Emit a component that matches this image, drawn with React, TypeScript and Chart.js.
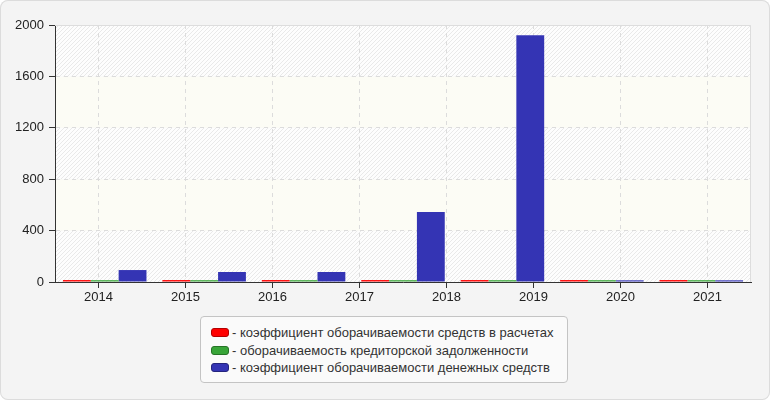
import Chart from "chart.js/auto"
import type { Plugin } from "chart.js/auto"
import { FC, useEffect, useRef } from "react"

const years = ["2014", "2015", "2016", "2017", "2018", "2019", "2020", "2021"]
// the bar groups in the picture sit on their own 7-slot grid
const barSlots = years.slice(0, 7)

const settlementsTurnover = [15, 15, 15, 15, 15, 15, 15]
const payablesTurnover = [14, 14, 14, 14, 14, 14, 14]
const cashTurnover = [93, 78, 78, 545, 1920, 13, 13]

const yTicks = [0, 400, 800, 1200, 1600, 2000]

const seriesNames = [
    "- коэффициент оборачиваемости средств в расчетах",
    "- оборачиваемость кредиторской задолженности",
    "- коэффициент оборачиваемости денежных средств"
]
const seriesColors = ["#ff0000", "#38a538", "#3434b4"]
const swatchBorders = ["#b30000", "#267326", "#24247d"]

const FONT = "'Liberation Sans', Arial, sans-serif"

const makeHatch = () => {
    const c = document.createElement("canvas")
    c.width = 4
    c.height = 4
    const g = c.getContext("2d")!
    g.fillStyle = "#fdfdfd"
    g.fillRect(0, 0, 4, 4)
    g.strokeStyle = "#e9e9e9"
    g.lineWidth = 1
    g.beginPath()
    g.moveTo(0, 4)
    g.lineTo(4, 0)
    g.moveTo(-1, 1)
    g.lineTo(1, -1)
    g.moveTo(3, 5)
    g.lineTo(5, 3)
    g.stroke()
    return c
}

const plotBackground: Plugin = {
    id: "plotBackground",
    beforeDraw(chart) {
        const { ctx, chartArea } = chart
        const y = chart.scales.y
        const pattern = ctx.createPattern(makeHatch(), "repeat")
        ctx.save()
        for (let i = 0; i < yTicks.length - 1; i++) {
            const top = y.getPixelForValue(yTicks[i + 1])
            const bottom = y.getPixelForValue(yTicks[i])
            ctx.fillStyle = i % 2 === 0 ? (pattern as CanvasPattern) : "#fcfcf5"
            ctx.fillRect(chartArea.left, top, chartArea.right - chartArea.left, bottom - top)
        }
        ctx.restore()
    },
    beforeDatasetsDraw(chart) {
        const { ctx, chartArea } = chart
        ctx.save()
        ctx.strokeStyle = "#dddddd"
        ctx.lineWidth = 1
        ctx.beginPath()
        ctx.moveTo(chartArea.left, chartArea.top + 0.5)
        ctx.lineTo(chartArea.right - 0.5, chartArea.top + 0.5)
        ctx.lineTo(chartArea.right - 0.5, chartArea.bottom)
        ctx.stroke()
        ctx.restore()
    }
}

const TurnoverChart: FC = () => {
    const canvasRef = useRef<HTMLCanvasElement>(null)

    useEffect(() => {
        document.body.style.margin = "0"
        let chart: Chart | null = null

        if (canvasRef.current) {
            chart = new Chart(canvasRef.current, {
                type: "bar",
                data: {
                    labels: barSlots,
                    datasets: [settlementsTurnover, payablesTurnover, cashTurnover].map(
                        (values, i) => ({
                            label: seriesNames[i],
                            data: values,
                            backgroundColor: seriesColors[i],
                            borderWidth: 0,
                            xAxisID: "xb",
                            categoryPercentage: 0.84,
                            barPercentage: 1
                        })
                    )
                },
                options: {
                    animation: false,
                    responsive: true,
                    maintainAspectRatio: false,
                    layout: { padding: { top: 25, right: 19, left: 0, bottom: 0 } },
                    plugins: {
                        legend: { display: false },
                        tooltip: { enabled: false }
                    },
                    scales: {
                        xb: {
                            type: "category",
                            labels: barSlots,
                            display: false,
                            offset: true
                        },
                        x: {
                            type: "category",
                            labels: years,
                            bounds: "ticks",
                            offset: true,
                            grid: {
                                offset: false,
                                color: "#dcdcdc",
                                tickColor: "#333333",
                                tickLength: 6
                            },
                            border: { color: "#333333", dash: [4, 4] },
                            ticks: {
                                color: "#222222",
                                padding: 2,
                                font: { family: FONT, size: 13 }
                            },
                            afterFit(scale) {
                                scale.height = 118
                            }
                        },
                        y: {
                            min: 0,
                            max: 2000,
                            grid: {
                                color: "#dcdcdc",
                                tickColor: "#333333",
                                tickLength: 6
                            },
                            border: { color: "#333333", dash: [4, 4] },
                            ticks: {
                                stepSize: 400,
                                color: "#222222",
                                padding: 5,
                                font: { family: FONT, size: 13 },
                                callback: (value) => String(value)
                            },
                            afterFit(scale) {
                                scale.width = 55
                            }
                        }
                    }
                },
                plugins: [plotBackground]
            })
        }

        return () => {
            if (chart) chart.destroy()
        }
    }, [])

    return (
        <div
            style={{
                position: "relative",
                width: 770,
                height: 400,
                background: "#f4f4f4",
                borderRadius: 8,
                boxShadow: "inset 0 0 0 1px #dcdcdc",
                fontFamily: FONT
            }}
        >
            <div style={{ position: "absolute", left: 0, top: 0, width: 770, height: 400 }}>
                <canvas ref={canvasRef}></canvas>
            </div>
            <div
                style={{
                    position: "absolute",
                    left: 200,
                    top: 316,
                    width: 368,
                    height: 67,
                    boxSizing: "border-box",
                    border: "1px solid #c4c4c4",
                    borderRadius: 4,
                    background: "#fafafa",
                    padding: "7px 0 0 10px",
                    fontSize: 13,
                    color: "#333333"
                }}
            >
                {seriesNames.map((name, i) => (
                    <div
                        key={name}
                        style={{ display: "flex", alignItems: "center", height: 17.5, whiteSpace: "nowrap" }}
                    >
                        <span
                            style={{
                                display: "inline-block",
                                width: 16,
                                height: 7,
                                borderRadius: 3,
                                background: seriesColors[i],
                                border: `1px solid ${swatchBorders[i]}`,
                                marginRight: 3
                            }}
                        ></span>
                        <span>{name}</span>
                    </div>
                ))}
            </div>
        </div>
    )
}

export default function App() {
    return <TurnoverChart />
}
